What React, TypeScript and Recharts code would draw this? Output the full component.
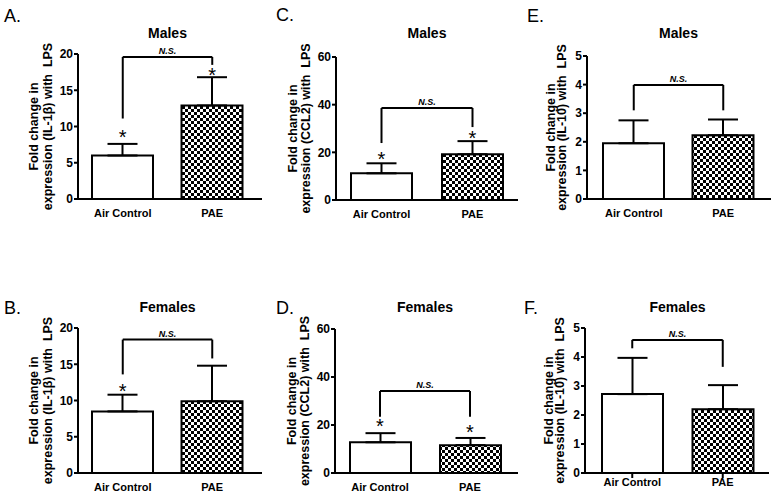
import React from 'react';
import {
  BarChart,
  Bar,
  XAxis,
  YAxis,
  ErrorBar,
  ReferenceLine,
  ReferenceDot,
  Cell,
} from 'recharts';

const groups = ['Air Control', 'PAE'];

// IL-1b
const ilbMaleMean = [6.0, 12.9];
const ilbMaleSem = [1.6, 3.9];
const ilbMaleBracket = [19.6, 11.1, 18.5];
const ilbMaleStars = [9.1, 17.7];

const ilbFemaleMean = [8.5, 9.9];
const ilbFemaleSem = [2.3, 4.9];
const ilbFemaleBracket = [18.4, 13.6, 15.8];
const ilbFemaleStars = [11.9, null];

// CCL2
const ccl2MaleMean = [11.2, 19.2];
const ccl2MaleSem = [4.2, 5.5];
const ccl2MaleBracket = [38.6, 23.9, 30.6];
const ccl2MaleStars = [18.8, 27.7];

const ccl2FemaleMean = [12.8, 11.6];
const ccl2FemaleSem = [3.8, 3.0];
const ccl2FemaleBracket = [34.2, 23.4, 23.4];
const ccl2FemaleStars = [21.4, 18.6];

// IL-10
const il10MaleMean = [1.95, 2.23];
const il10MaleSem = [0.8, 0.55];
const il10MaleBracket = [3.99, 3.1, 3.1];
const il10MaleStars = [null, null];

const il10FemaleMean = [2.72, 2.2];
const il10FemaleSem = [1.25, 0.83];
const il10FemaleBracket = [4.59, 4.3, 3.66];
const il10FemaleStars = [null, null];

const ilbTicks = [0, 5, 10, 15, 20];
const ccl2Ticks = [0, 20, 40, 60];
const il10Ticks = [0, 1, 2, 3, 4, 5];

const FONT = '"Liberation Sans", Arial, sans-serif';
const Y_W = 70;
const M_TOP = 20;
const X_H = 30;

type Layout = {
  axisX: number;
  top: number;
  bottom: number;
  right: number;
  padL: number;
  padR: number;
  off1: number;
  off2: number;
  xTicks: boolean;
  letterX: number;
  letterTop: number;
  titleTop: number;
};

type PanelProps = {
  id: string;
  letter: string;
  title: string;
  marker: string;
  mean: number[];
  sem: number[];
  bracket: number[];
  stars: (number | null)[];
  ticks: number[];
  layout: Layout;
};

const YLabel = ({ ax, acy, off1, off2, marker }: any) => {
  const x1 = ax - off1;
  const x2 = ax - off2;
  const common = {
    textAnchor: 'middle' as const,
    fontFamily: FONT,
    fontSize: 12.5,
    fontWeight: 'bold',
    fill: '#000',
    style: { whiteSpace: 'pre' as const },
  };
  return (
    <g>
      <text x={x1} y={acy} transform={`rotate(-90, ${x1}, ${acy})`} {...common}>
        Fold change in
      </text>
      <text x={x2} y={acy} transform={`rotate(-90, ${x2}, ${acy})`} {...common}>
        {`expression (${marker}) with  LPS`}
      </text>
    </g>
  );
};

const NsLabel = (props: any) => {
  const vb = props.viewBox || {};
  const x = (vb.x ?? 0) + (vb.width ?? 0) / 2;
  const y = vb.y ?? 0;
  return (
    <text
      x={x}
      y={y - 3}
      textAnchor="middle"
      fontFamily={FONT}
      fontSize={9}
      fontStyle="italic"
      fontWeight="bold"
      fill="#000"
    >
      N.S.
    </text>
  );
};

const Star = (props: any) => (
  <text
    x={props.cx}
    y={props.cy + 11}
    textAnchor="middle"
    fontFamily={FONT}
    fontSize={20}
    fill="#000"
  >
    *
  </text>
);

const Panel = ({ id, letter, title, marker, mean, sem, bracket, stars, ticks, layout }: PanelProps) => {
  const { axisX, top, bottom, right, padL, padR } = layout;
  const left = axisX - Y_W;
  const width = right - left;
  const height = bottom - top + M_TOP + X_H;
  const data = groups.map((g, i) => ({ group: g, mean: mean[i], err: [0, sem[i]] }));
  const maxY = ticks[ticks.length - 1];
  const titleX = axisX + padL + (right - padR - axisX - padL) / 2;
  const [by, leftBottom, rightBottom] = bracket;

  return (
    <>
      <div
        style={{
          position: 'absolute',
          left: layout.letterX,
          top: layout.letterTop,
          fontFamily: FONT,
          fontSize: 18,
          lineHeight: '18px',
          color: '#000',
        }}
      >
        {letter}
      </div>
      <div
        style={{
          position: 'absolute',
          left: titleX - 60,
          width: 120,
          top: layout.titleTop,
          textAlign: 'center',
          fontFamily: FONT,
          fontSize: 14,
          lineHeight: '14px',
          fontWeight: 'bold',
          color: '#000',
        }}
      >
        {title}
      </div>
      <div style={{ position: 'absolute', left, top: top - M_TOP, width, height }}>
        <BarChart
          width={width}
          height={height}
          data={data}
          margin={{ top: M_TOP, right: 0, bottom: 0, left: 0 }}
          barSize={61}
        >
          <defs>
            <pattern id={`check-${id}`} width={6} height={6} patternUnits="userSpaceOnUse">
              <rect x={0} y={0} width={6} height={6} fill="#fff" />
              <rect x={0} y={0} width={3} height={3} fill="#000" />
              <rect x={3} y={3} width={3} height={3} fill="#000" />
            </pattern>
          </defs>
          <XAxis
            dataKey="group"
            type="category"
            height={X_H}
            padding={{ left: padL, right: padR }}
            axisLine={{ stroke: '#000', strokeWidth: 2 }}
            tickLine={layout.xTicks ? { stroke: '#000', strokeWidth: 2 } : false}
            tickSize={5}
            tickMargin={layout.xTicks ? 0 : 5}
            tick={{ fill: '#000', fontSize: 11, fontWeight: 'bold', fontFamily: FONT }}
            interval={0}
          />
          <YAxis
            type="number"
            width={Y_W}
            domain={[0, maxY]}
            ticks={ticks}
            interval={0}
            axisLine={{ stroke: '#000', strokeWidth: 2 }}
            tickLine={{ stroke: '#000', strokeWidth: 2 }}
            tickSize={4}
            tickMargin={1}
            tick={{ fill: '#000', fontSize: 12, fontWeight: 'bold', fontFamily: FONT }}
            label={
              <YLabel
                ax={Y_W}
                acy={M_TOP + (bottom - top) / 2}
                off1={layout.off1}
                off2={layout.off2}
                marker={marker}
              />
            }
          />
          <Bar dataKey="mean" isAnimationActive={false} stroke="#000" strokeWidth={2}>
            {data.map((d, i) => (
              <Cell key={d.group} fill={i === 0 ? '#fff' : `url(#check-${id})`} stroke="#000" strokeWidth={2} />
            ))}
            <ErrorBar dataKey="err" direction="y" width={15} stroke="#000" strokeWidth={2} isAnimationActive={false} />
          </Bar>
          <ReferenceLine
            segment={[
              { x: groups[0], y: by },
              { x: groups[1], y: by },
            ]}
            stroke="#000"
            strokeWidth={2}
            label={<NsLabel />}
          />
          <ReferenceLine
            segment={[
              { x: groups[0], y: by },
              { x: groups[0], y: leftBottom },
            ]}
            stroke="#000"
            strokeWidth={2}
          />
          <ReferenceLine
            segment={[
              { x: groups[1], y: by },
              { x: groups[1], y: rightBottom },
            ]}
            stroke="#000"
            strokeWidth={2}
          />
          {stars.map((s, i) =>
            s == null ? null : (
              <ReferenceDot key={i} x={groups[i]} y={s} r={0} shape={<Star />} />
            )
          )}
        </BarChart>
      </div>
    </>
  );
};

const layoutA: Layout = { axisX: 78, top: 54, bottom: 199, right: 262, padL: 0, padR: 5, off1: 40, off2: 26, xTicks: false, letterX: 4, letterTop: 7, titleTop: 26 };
const layoutB: Layout = { axisX: 78, top: 328, bottom: 473, right: 262, padL: 0, padR: 5, off1: 40, off2: 26, xTicks: false, letterX: 4, letterTop: 299, titleTop: 300 };
const layoutC: Layout = { axisX: 336, top: 57, bottom: 200, right: 518, padL: 0, padR: 0, off1: 39, off2: 26, xTicks: false, letterX: 276, letterTop: 6, titleTop: 26 };
const layoutD: Layout = { axisX: 335, top: 329, bottom: 473, right: 518, padL: 0, padR: 3, off1: 39, off2: 26, xTicks: false, letterX: 276, letterTop: 299, titleTop: 300 };
const layoutE: Layout = { axisX: 587, top: 56, bottom: 199, right: 771, padL: 2, padR: 3, off1: 32, off2: 21, xTicks: false, letterX: 527, letterTop: 7, titleTop: 26 };
const layoutF: Layout = { axisX: 585, top: 328, bottom: 473, right: 769, padL: 2, padR: 1, off1: 32, off2: 21, xTicks: true, letterX: 524, letterTop: 299, titleTop: 300 };

export default function App() {
  return (
    <div style={{ position: 'absolute', left: 0, top: 0, width: 776, height: 494, background: '#fff' }}>
      <Panel id="a" letter="A." title="Males" marker="IL-1β" mean={ilbMaleMean} sem={ilbMaleSem}
        bracket={ilbMaleBracket} stars={ilbMaleStars} ticks={ilbTicks} layout={layoutA} />
      <Panel id="b" letter="B." title="Females" marker="IL-1β" mean={ilbFemaleMean} sem={ilbFemaleSem}
        bracket={ilbFemaleBracket} stars={ilbFemaleStars} ticks={ilbTicks} layout={layoutB} />
      <Panel id="c" letter="C." title="Males" marker="CCL2" mean={ccl2MaleMean} sem={ccl2MaleSem}
        bracket={ccl2MaleBracket} stars={ccl2MaleStars} ticks={ccl2Ticks} layout={layoutC} />
      <Panel id="d" letter="D." title="Females" marker="CCL2" mean={ccl2FemaleMean} sem={ccl2FemaleSem}
        bracket={ccl2FemaleBracket} stars={ccl2FemaleStars} ticks={ccl2Ticks} layout={layoutD} />
      <Panel id="e" letter="E." title="Males" marker="IL-10" mean={il10MaleMean} sem={il10MaleSem}
        bracket={il10MaleBracket} stars={il10MaleStars} ticks={il10Ticks} layout={layoutE} />
      <Panel id="f" letter="F." title="Females" marker="IL-10" mean={il10FemaleMean} sem={il10FemaleSem}
        bracket={il10FemaleBracket} stars={il10FemaleStars} ticks={il10Ticks} layout={layoutF} />
    </div>
  );
}
